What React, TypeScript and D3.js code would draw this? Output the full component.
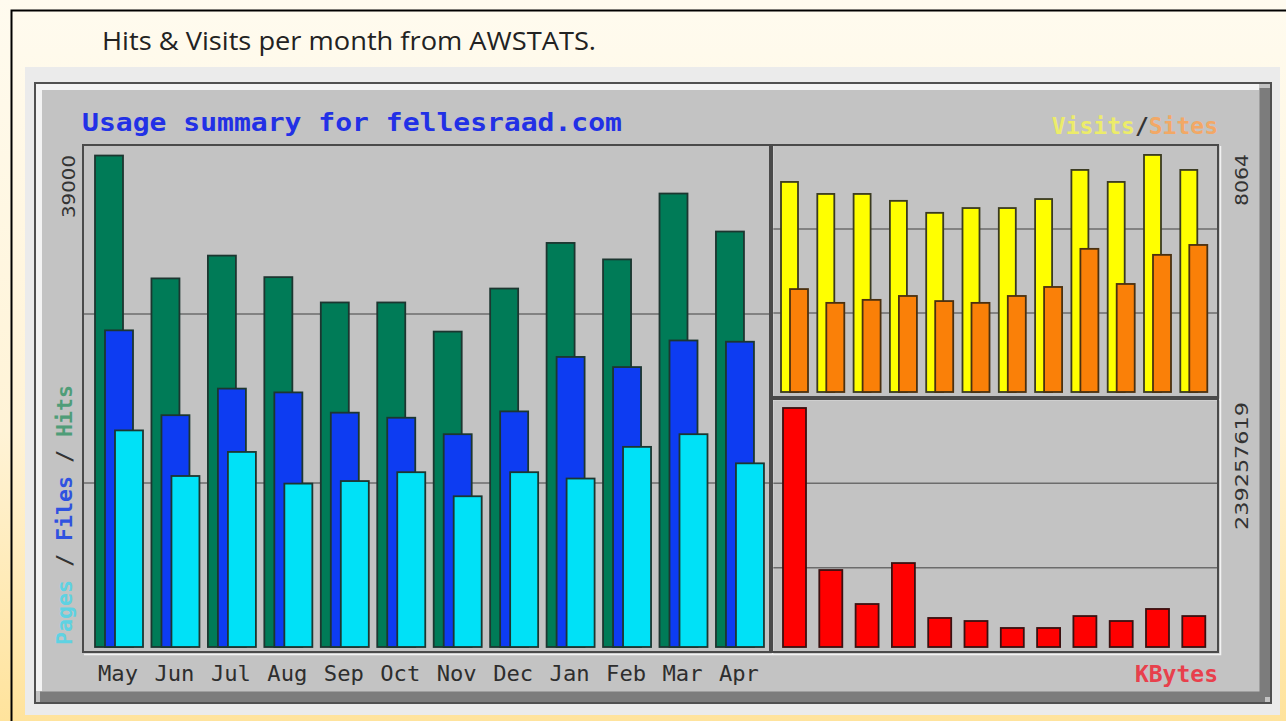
import { useRef, useEffect } from 'react'
import * as d3 from 'd3'

const W = 1286
const H = 721

const MONTHS = ['May', 'Jun', 'Jul', 'Aug', 'Sep', 'Oct', 'Nov', 'Dec', 'Jan', 'Feb', 'Mar', 'Apr']
const HITS = [38800, 29100, 30900, 29200, 27200, 27200, 24900, 28300, 31900, 30600, 35800, 32800]
const FILES = [25000, 18300, 20400, 20100, 18500, 18100, 16800, 18600, 22900, 22100, 24200, 24100]
const PAGES = [17100, 13500, 15400, 12900, 13100, 13800, 11900, 13800, 13300, 15800, 16800, 14500]
const VISITS = [7000, 6600, 6600, 6370, 5970, 6130, 6130, 6430, 7400, 7000, 7900, 7400]
const SITES = [3430, 2970, 3070, 3200, 3030, 2970, 3200, 3500, 4770, 3600, 4570, 4900]
const KBYTES = [236300000, 76100000, 42500000, 83000000, 28700000, 25700000, 18800000, 18800000, 30600000, 25700000, 37600000, 30600000]
const HITS_MAX = 39000
const VISITS_MAX = 8064
const KBYTES_MAX = 239257619

const CAPTION = 'Hits & Visits per month from AWSTATS.'
const TITLE = 'Usage summary for fellesraad.com'

const MONO = '"DejaVu Sans Mono", "Liberation Mono", monospace'
const SANS = '"DejaVu Sans", "Liberation Sans", sans-serif'

export default function App() {
  const svgRef = useRef<SVGSVGElement>(null)

  useEffect(() => {
    if (!svgRef.current) return
    const svg = d3.select(svgRef.current)
    svg.selectAll('*').remove()

    const defs = svg.append('defs')
    const bg = defs.append('linearGradient').attr('id', 'bg').attr('x1', 0).attr('y1', 0).attr('x2', 0).attr('y2', 1)
    bg.append('stop').attr('offset', '0%').attr('stop-color', '#fffbef')
    bg.append('stop').attr('offset', '60%').attr('stop-color', '#fff3d6')
    bg.append('stop').attr('offset', '100%').attr('stop-color', '#ffe39c')

    // slide background + border
    svg.append('rect').attr('width', W).attr('height', H).attr('fill', 'url(#bg)')
    svg.append('path').attr('d', `M11.5,${H} V10.5 H${W}`)
      .attr('fill', 'none').attr('stroke', '#000').attr('stroke-width', 2)

    svg.append('text').attr('x', 102).attr('y', 50)
      .attr('font-family', '"Open Sans", "Noto Sans", sans-serif').attr('font-size', 25)
      .attr('fill', '#222').attr('textLength', 494).attr('lengthAdjust', 'spacingAndGlyphs')
      .text(CAPTION)

    // screenshot area
    svg.append('rect').attr('x', 25).attr('y', 67).attr('width', 1255).attr('height', 648).attr('fill', '#ebebeb')

    // awstats frame with bevel
    svg.append('rect').attr('x', 35).attr('y', 83).attr('width', 1236).attr('height', 620).attr('fill', '#c3c3c3')
    svg.append('path').attr('d', 'M1265,697 V88 M40,697 H1265')
      .attr('fill', 'none').attr('stroke', '#7c7c7c').attr('stroke-width', 11)
    svg.append('path').attr('d', 'M39,691 V87 H1259')
      .attr('fill', 'none').attr('stroke', '#f3f3f3').attr('stroke-width', 6)
    svg.append('rect').attr('x', 35).attr('y', 83).attr('width', 1236).attr('height', 620)
      .attr('fill', 'none').attr('stroke', '#505050').attr('stroke-width', 2)

    // panels
    const L = { x: 83, y: 145, w: 687, h: 507 }
    const RT = { x: 772, y: 145, w: 446, h: 252 }
    const RB = { x: 772, y: 399, w: 446, h: 253 }

    const drawGrid = (p: typeof L) => {
      svg.append('g').selectAll('line').data([1, 2]).join('line')
        .attr('x1', p.x).attr('x2', p.x + p.w)
        .attr('y1', (i) => p.y + (i * p.h) / 3).attr('y2', (i) => p.y + (i * p.h) / 3)
        .attr('stroke', '#6c6c6c').attr('stroke-width', 1.5)
    }
    const drawFrame = (p: typeof L) => {
      svg.append('path').attr('d', `M${p.x + 1},${p.y + p.h + 2.5} H${p.x + p.w + 2.5} V${p.y + 1}`)
        .attr('fill', 'none').attr('stroke', '#f2f2f2').attr('stroke-width', 1.5)
      svg.append('rect').attr('x', p.x).attr('y', p.y).attr('width', p.w).attr('height', p.h)
        .attr('fill', 'none').attr('stroke', '#4a4a4a').attr('stroke-width', 2)
    }
    ;[L, RT, RB].forEach(drawGrid)

    // left: hits / files / pages
    const xL = d3.scaleBand().domain(MONTHS).range([95, 95 + 12 * 56.45])
    const yL = d3.scaleLinear().domain([0, HITS_MAX]).range([647, 153])
    const leftSeries: [number[], number, string][] = [
      [HITS, 0, '#007b57'],
      [FILES, 10, '#0d3cf2'],
      [PAGES, 20, '#00e1f7'],
    ]
    leftSeries.forEach(([vals, off, color]) => {
      svg.append('g').selectAll('rect').data(vals).join('rect')
        .attr('x', (_, i) => (xL(MONTHS[i]) ?? 0) + off)
        .attr('y', (d) => yL(d))
        .attr('width', 28)
        .attr('height', (d) => yL(0) - yL(d))
        .attr('fill', color).attr('stroke', '#1c3630').attr('stroke-width', 1.8)
    })

    // right top: visits / sites
    const xR = d3.scaleBand().domain(MONTHS).range([781, 781 + 12 * 36.3])
    const yV = d3.scaleLinear().domain([0, VISITS_MAX]).range([392, 150])
    svg.append('g').selectAll('rect').data(VISITS).join('rect')
      .attr('x', (_, i) => xR(MONTHS[i]) ?? 0).attr('y', (d) => yV(d))
      .attr('width', 17).attr('height', (d) => yV(0) - yV(d))
      .attr('fill', '#ffff00').attr('stroke', '#3a3a20').attr('stroke-width', 1.8)
    svg.append('g').selectAll('rect').data(SITES).join('rect')
      .attr('x', (_, i) => (xR(MONTHS[i]) ?? 0) + 9).attr('y', (d) => yV(d))
      .attr('width', 18).attr('height', (d) => yV(0) - yV(d))
      .attr('fill', '#fa8008').attr('stroke', '#4a3010').attr('stroke-width', 1.8)

    // right bottom: kbytes
    const yK = d3.scaleLinear().domain([0, KBYTES_MAX]).range([647, 405])
    svg.append('g').selectAll('rect').data(KBYTES).join('rect')
      .attr('x', (_, i) => (xR(MONTHS[i]) ?? 0) + 2).attr('y', (d) => yK(d))
      .attr('width', 23).attr('height', (d) => yK(0) - yK(d))
      .attr('fill', '#ff0000').attr('stroke', '#3a1010').attr('stroke-width', 1.8)

    ;[L, RT, RB].forEach(drawFrame)

    // title
    svg.append('text').attr('x', 82).attr('y', 131)
      .attr('font-family', MONO).attr('font-weight', 'bold').attr('font-size', 25)
      .attr('fill', '#2230e6').attr('textLength', 540).attr('lengthAdjust', 'spacingAndGlyphs')
      .text(TITLE)

    // visits / sites legend
    const vs = svg.append('text').attr('x', 1218).attr('y', 134).attr('text-anchor', 'end')
      .attr('font-family', MONO).attr('font-weight', 'bold').attr('font-size', 23)
    vs.append('tspan').attr('fill', '#ecec6a').text('Visits')
    vs.append('tspan').attr('fill', '#333').text('/')
    vs.append('tspan').attr('fill', '#f2a866').text('Sites')

    // rotated left legend
    const pf = svg.append('text').attr('transform', 'translate(72,645) rotate(-90)')
      .attr('font-family', MONO).attr('font-weight', 'bold').attr('font-size', 21)
      .attr('textLength', 260).attr('lengthAdjust', 'spacingAndGlyphs')
    pf.append('tspan').attr('fill', '#5fd2e2').text('Pages')
    pf.append('tspan').attr('fill', '#333').text(' / ')
    pf.append('tspan').attr('fill', '#2f52e0').text('Files')
    pf.append('tspan').attr('fill', '#333').text(' / ')
    pf.append('tspan').attr('fill', '#4f9d78').text('Hits')

    // max labels
    const maxLabel = (x: number, y: number, len: number, t: string) =>
      svg.append('text').attr('transform', `translate(${x},${y}) rotate(-90)`)
        .attr('text-anchor', 'end').attr('font-family', SANS).attr('font-size', 18)
        .attr('fill', '#333').attr('textLength', len).attr('lengthAdjust', 'spacingAndGlyphs')
        .text(t)
    maxLabel(75, 155, 63, String(HITS_MAX))
    maxLabel(1248, 154, 52, String(VISITS_MAX))
    maxLabel(1248, 402, 128, String(KBYTES_MAX))

    // month labels
    svg.append('g').selectAll('text').data(MONTHS).join('text')
      .attr('x', (d) => (xL(d) ?? 0) + 23).attr('y', 681)
      .attr('text-anchor', 'middle').attr('font-family', MONO).attr('font-size', 21)
      .attr('fill', '#2e2e2e').attr('textLength', 40).attr('lengthAdjust', 'spacingAndGlyphs')
      .text((d) => d)

    svg.append('text').attr('x', 1218).attr('y', 682).attr('text-anchor', 'end')
      .attr('font-family', MONO).attr('font-weight', 'bold').attr('font-size', 23)
      .attr('fill', '#e8404c').text('KBytes')
  }, [])

  return (
    <div style={{ position: 'absolute', left: 0, top: 0 }}>
      <svg ref={svgRef} width={W} height={H} style={{ display: 'block' }} />
    </div>
  )
}
